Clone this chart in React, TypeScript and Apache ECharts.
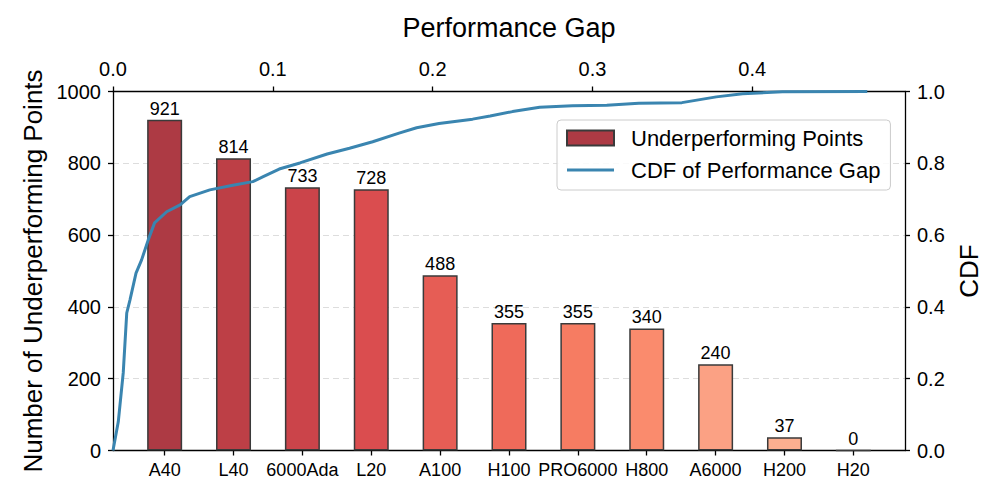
import React, { useEffect, useRef } from "react";
import * as echarts from "echarts";

const categories = ["A40", "L40", "6000Ada", "L20", "A100", "H100", "PRO6000", "H800", "A6000", "H200", "H20"];
const counts = [921, 814, 733, 728, 488, 355, 355, 340, 240, 37, 0];
const barColors = ["#AD3A44", "#BD3F46", "#CB444A", "#DA4D4F", "#E65D55", "#EF6A5A", "#F67C62", "#FA8B6D", "#FBA184", "#FCAF90", "#FDC0A3"];

const cdfGap = [0, 0.0033, 0.0064, 0.0086, 0.0106, 0.0144, 0.0179, 0.022, 0.026, 0.0336, 0.042, 0.048, 0.0606, 0.075, 0.0875, 0.094, 0.104, 0.117, 0.134, 0.148, 0.1625, 0.179, 0.19, 0.204, 0.225, 0.236, 0.25, 0.267, 0.2875, 0.309, 0.329, 0.356, 0.3775, 0.394, 0.419, 0.472];
const cdfValue = [0, 0.08, 0.216, 0.383, 0.419, 0.494, 0.531, 0.586, 0.634, 0.665, 0.684, 0.707, 0.726, 0.739, 0.749, 0.763, 0.784, 0.801, 0.826, 0.842, 0.86, 0.884, 0.899, 0.911, 0.923, 0.932, 0.944, 0.956, 0.96, 0.962, 0.967, 0.969, 0.985, 0.994, 0.999, 1.0];

const FONT = "'Liberation Sans', Arial, Helvetica, sans-serif";

export default function App() {
  const ref = useRef<HTMLDivElement>(null);
  useEffect(() => {
    if (!ref.current) return;
    const chart = echarts.init(ref.current, null, { renderer: "svg" });
    const gapMax = Math.max(...cdfGap) * 1.05;
    // half-unit slots so that the first/last category sit 0.75 of a step from the frame
    const slots: string[] = [""];
    const slotValues: any[] = ["-"];
    categories.forEach((c, i) => {
      slots.push(c, "");
      slotValues.push(
        { value: counts[i], itemStyle: { color: barColors[i] } },
        "-"
      );
    });
    const isCat = (index: number) => index % 2 === 1;
    const axisLine = () => ({ show: true, onZero: false, lineStyle: { color: "#000", width: 1.3 } });
    const axisTick = () => ({ show: true, length: 5, lineStyle: { color: "#000", width: 1.3 } });
    chart.setOption({
      animation: false,
      textStyle: { fontFamily: FONT },
      grid: { left: 113, right: 91, top: 91.5, bottom: 47.5, containLabel: false },
      legend: {
        orient: "vertical",
        left: 557,
        top: 120,
        padding: [7, 10, 9, 9],
        itemGap: 10,
        itemWidth: 47,
        itemHeight: 15,
        symbolKeepAspect: true,
        borderColor: "#cccccc",
        borderWidth: 1,
        borderRadius: 4,
        backgroundColor: "rgba(255,255,255,0.85)",
        textStyle: { fontSize: 22, color: "#000", fontFamily: FONT, lineHeight: 22, padding: [0, 0, 0, 12] },
        data: [
          { name: "Underperforming Points", icon: "rect" },
          { name: "CDF of Performance Gap", icon: "path://M0,0L47,0L47,3L0,3Z" },
        ],
      },
      xAxis: [
        {
          type: "category",
          position: "bottom",
          data: slots,
          boundaryGap: true,
          axisLine: axisLine(),
          axisTick: { ...axisTick(), alignWithLabel: true, interval: isCat },
          axisLabel: { interval: isCat, fontSize: 18, color: "#000", margin: 10, fontFamily: FONT },
          splitLine: { show: false },
        },
        {
          type: "value",
          position: "top",
          min: 0,
          max: gapMax,
          interval: 0.1,
          name: "Performance Gap",
          nameLocation: "middle",
          nameGap: 50,
          nameTextStyle: { fontSize: 27, color: "#000", fontFamily: FONT },
          axisLine: axisLine(),
          axisTick: axisTick(),
          axisLabel: {
            showMaxLabel: false,
            formatter: (v: number) => (Math.abs(v * 10 - Math.round(v * 10)) < 1e-6 ? v.toFixed(1) : ""),
            fontSize: 20,
            color: "#000",
            margin: 13,
            fontFamily: FONT,
          },
          splitLine: { show: false },
        },
      ],
      yAxis: [
        {
          type: "value",
          position: "left",
          min: 0,
          max: 1000,
          interval: 200,
          name: "Number of Underperforming Points",
          nameLocation: "middle",
          nameRotate: 90,
          nameGap: 66,
          nameTextStyle: { fontSize: 26, color: "#000", fontFamily: FONT },
          axisLine: axisLine(),
          axisTick: axisTick(),
          axisLabel: { fontSize: 20, color: "#000", margin: 12, fontFamily: FONT, formatter: (v: number) => String(v) },
          splitLine: { show: true, lineStyle: { color: "#dddddd", type: [6, 4], width: 1 } },
        },
        {
          type: "value",
          position: "right",
          min: 0,
          max: 1,
          interval: 0.2,
          name: "CDF",
          nameLocation: "middle",
          nameRotate: 90,
          nameGap: 43,
          nameTextStyle: { fontSize: 26, color: "#000", fontFamily: FONT },
          axisLine: axisLine(),
          axisTick: axisTick(),
          axisLabel: { fontSize: 20, color: "#000", margin: 12, fontFamily: FONT, formatter: (v: number) => v.toFixed(1) },
          splitLine: { show: false },
        },
      ],
      series: [
        {
          name: "Underperforming Points",
          type: "bar",
          xAxisIndex: 0,
          yAxisIndex: 0,
          barWidth: 35,
          itemStyle: { color: barColors[0], borderColor: "#3a3a3a", borderWidth: 1.5 },
          label: { show: true, position: "top", distance: 2, fontSize: 18, color: "#000", fontFamily: FONT },
          data: slotValues,
          z: 2,
        },
        {
          name: "CDF of Performance Gap",
          type: "line",
          xAxisIndex: 1,
          yAxisIndex: 1,
          symbol: "none",
          showSymbol: false,
          lineStyle: { color: "#3A85B0", width: 3 },
          itemStyle: { color: "#3A85B0" },
          data: cdfGap.map((g, i) => [g, cdfValue[i]]),
          z: 3,
        },
      ],
    });
    return () => chart.dispose();
  }, []);
  return <div ref={ref} style={{ position: "absolute", left: 0, top: 0, width: 996, height: 498 }} />;
}
